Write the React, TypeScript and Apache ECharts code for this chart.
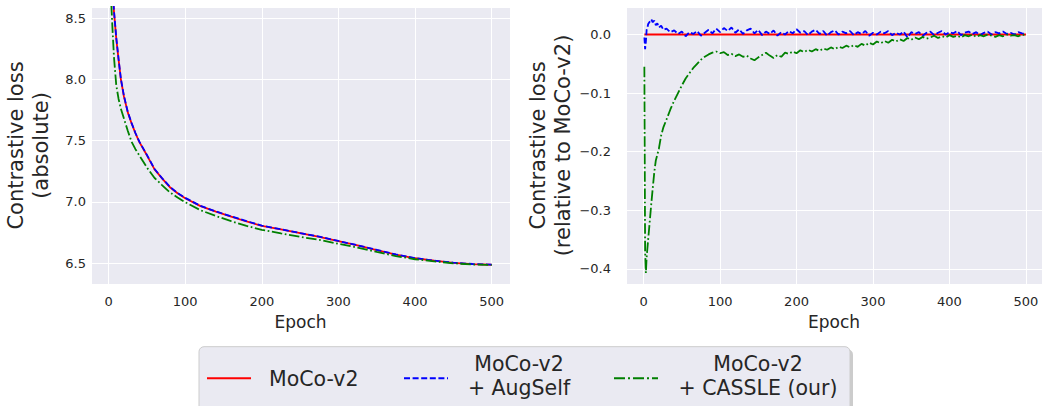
import React, { useEffect, useRef } from "react";
import * as echarts from "echarts";

// ---------- data ----------
const SERIES_NAMES = ["MoCo-v2", "MoCo-v2\n+ AugSelf", "MoCo-v2\n+ CASSLE (our)"];

// Left panel: absolute contrastive loss
const EPOCHS_ABS = [1, 3, 5, 7, 10, 13, 16, 20, 25, 30, 35, 40, 50, 60, 70, 80, 90, 100, 120, 140, 160, 180, 200, 225, 250, 275, 300, 325, 350, 375, 400, 425, 450, 475, 500];
const MOCO_ABS = [10.0, 9.2, 8.75, 8.55, 8.33, 8.16, 8.0, 7.86, 7.73, 7.64, 7.56, 7.49, 7.38, 7.265, 7.19, 7.12, 7.07, 7.03, 6.965, 6.92, 6.88, 6.84, 6.805, 6.775, 6.745, 6.715, 6.68, 6.645, 6.607, 6.57, 6.54, 6.52, 6.503, 6.492, 6.487];
const AUGSELF_ABS = [10.02, 9.21, 8.76, 8.56, 8.34, 8.165, 8.005, 7.865, 7.735, 7.643, 7.562, 7.493, 7.383, 7.268, 7.192, 7.123, 7.072, 7.033, 6.967, 6.922, 6.882, 6.843, 6.806, 6.777, 6.746, 6.717, 6.681, 6.646, 6.609, 6.571, 6.541, 6.521, 6.504, 6.493, 6.488];
const CASSLE_ABS = [9.6, 8.68, 8.42, 8.18, 7.95, 7.84, 7.76, 7.68, 7.58, 7.49, 7.43, 7.38, 7.28, 7.195, 7.135, 7.078, 7.035, 6.997, 6.932, 6.885, 6.843, 6.804, 6.772, 6.743, 6.715, 6.69, 6.658, 6.627, 6.592, 6.558, 6.532, 6.515, 6.499, 6.489, 6.485];

// Right panel: loss relative to MoCo-v2
const EPOCHS_REL = [
  1, 2, 3, 4, 5, 6, 8, 10, 12, 14, 16, 18, 20, 23, 26, 30,
  35, 40, 45, 50, 55, 60, 65, 70, 75, 80, 85, 90, 95, 100,
  105, 110, 115, 120, 125, 130, 135, 140, 145, 150, 155, 160, 165, 170, 175, 180, 185, 190, 195, 200,
  205, 210, 215, 220, 225, 230, 235, 240, 245, 250, 255, 260, 265, 270, 275, 280, 285, 290, 295, 300,
  305, 310, 315, 320, 325, 330, 335, 340, 345, 350, 355, 360, 365, 370, 375, 380, 385, 390, 395, 400,
  405, 410, 415, 420, 425, 430, 435, 440, 445, 450, 455, 460, 465, 470, 475, 480, 485, 490, 495, 500,
];
const MOCO_REL = EPOCHS_REL.map(() => 0);
const AUGSELF_REL = [
  -0.005, -0.025, -0.012, 0.008, 0.012, 0.018, 0.022, 0.026, 0.021, 0.024, 0.016, 0.019, 0.012, 0.015, 0.008, 0.010,
  0.004, 0.007, 0.001, 0.005, -0.003, 0.004, 0.001, 0.006, -0.002, 0.003, 0.008, 0.002, 0.010, 0.004,
  0.011, 0.006, 0.012, 0.003, 0.009, 0.001, 0.007, 0.010, 0.002, 0.008, -0.001, 0.005, 0.001, 0.007, -0.002, 0.004, 0.000, 0.006, 0.002, 0.009,
  0.003, 0.006, -0.001, 0.005, 0.008, 0.001, 0.006, -0.002, 0.004, 0.007, 0.000, 0.005, 0.002, 0.006, -0.001, 0.004, 0.001, 0.006, -0.002, 0.003,
  0.000, 0.005, 0.002, 0.006, -0.001, 0.003, 0.000, 0.005, -0.005, 0.004, 0.001, 0.004, -0.002, 0.003, 0.005, -0.001, 0.003, 0.006, 0.000, 0.004,
  0.002, 0.006, -0.001, 0.003, 0.005, 0.001, 0.004, -0.001, 0.003, 0.005, 0.000, 0.004, 0.002, 0.005, 0.001, 0.003, 0.000, 0.004, 0.002, 0.001,
];
const CASSLE_REL = [
  -0.055, -0.37, -0.407, -0.38, -0.365, -0.35, -0.32, -0.29, -0.262, -0.235, -0.215, -0.205, -0.195, -0.172, -0.158, -0.145,
  -0.128, -0.113, -0.1, -0.087, -0.075, -0.066, -0.057, -0.05, -0.043, -0.038, -0.034, -0.031, -0.029, -0.032,
  -0.030, -0.035, -0.033, -0.037, -0.034, -0.038, -0.036, -0.041, -0.044, -0.039, -0.035, -0.031, -0.036, -0.040, -0.035, -0.038, -0.031, -0.033, -0.029, -0.032,
  -0.027, -0.030, -0.026, -0.029, -0.025, -0.028, -0.024, -0.026, -0.022, -0.025, -0.021, -0.023, -0.019, -0.022, -0.018, -0.021, -0.016, -0.019, -0.014, -0.017,
  -0.012, -0.015, -0.011, -0.014, -0.009, -0.012, -0.008, -0.011, -0.006, -0.009, -0.005, -0.008, -0.004, -0.007, -0.005, -0.002, -0.006, -0.003, -0.005, -0.001,
  -0.004, -0.002, -0.005, -0.001, -0.003, 0.000, -0.004, -0.001, -0.003, 0.000, -0.002, -0.004, -0.001, -0.003, 0.000, -0.002, -0.001, -0.003, 0.000, -0.002,
];

// ---------- style ----------
const FONT = "DejaVu Sans";
const TEXT = "#262626";
const BG = "#eaeaf2";
const COLORS = ["#ff0000", "#0000ff", "#008000"];
const DASHES: any[] = ["solid", [6, 2.6], [10.5, 2.6, 1.7, 2.6]];
const LEGEND_DASHES: any[] = [null, [6, 2.6], [11, 3, 2, 3]];

function pairs(xs: number[], ys: number[]) {
  const n = Math.min(xs.length, ys.length);
  const out: number[][] = [];
  for (let i = 0; i < n; i++) out.push([xs[i], ys[i]]);
  return out;
}

const fmt = (v: number) => {
  const s = Math.abs(v).toFixed(1);
  return (v < -1e-9 ? "\u2212" : "") + s;
};

export default function App() {
  const ref = useRef<HTMLDivElement>(null);
  useEffect(() => {
    const chart = echarts.init(ref.current!, null, { renderer: "svg" });

    const xAxis = (gridIndex: number, max: number) => ({
      type: "value",
      gridIndex,
      min: -23,
      max,
      name: "Epoch",
      nameLocation: "middle",
      nameGap: 29,
      nameTextStyle: { fontFamily: FONT, fontSize: 17, color: TEXT },
      axisLine: { show: false },
      axisTick: { show: false },
      axisLabel: { fontFamily: FONT, fontSize: 13, color: TEXT, margin: 11, showMinLabel: false, showMaxLabel: false },
      splitLine: { show: true, lineStyle: { color: "#ffffff", width: 1 } },
    });

    const yAxis = (gridIndex: number, min: number, max: number, name: string, nameGap: number, margin: number) => ({
      type: "value",
      gridIndex,
      min,
      max,
      name,
      nameLocation: "middle",
      nameRotate: 90,
      nameGap,
      nameTextStyle: { fontFamily: FONT, fontSize: 21, color: TEXT, lineHeight: 24.5, align: "center" },
      axisLine: { show: false },
      axisTick: { show: false },
      axisLabel: {
        fontFamily: FONT, fontSize: 13, color: TEXT, margin,
        showMinLabel: false, showMaxLabel: false,
        formatter: (v: number) => fmt(v),
      },
      splitLine: { show: true, lineStyle: { color: "#ffffff", width: 1 } },
    });

    const line = (i: number, data: number[][], xi: number) => ({
      type: "line",
      name: SERIES_NAMES[i],
      xAxisIndex: xi,
      yAxisIndex: xi,
      data,
      symbol: "none",
      showSymbol: false,
      clip: true,
      lineStyle: { color: COLORS[i], width: 1.8, type: DASHES[i] },
      itemStyle: { color: COLORS[i] },
      emphasis: { disabled: true },
      z: 2 + i,
    });

    const legendText = (text: string, x: number, y: number, align: string) => ({
      type: "text",
      x,
      y,
      silent: true,
      style: {
        text,
        fontFamily: FONT,
        fontSize: 20.5,
        lineHeight: 24.6,
        fill: TEXT,
        textAlign: align,
        align,
        textVerticalAlign: "middle",
        verticalAlign: "middle",
      },
    });
    const legendLine = (i: number, x1: number) => ({
      type: "line",
      silent: true,
      shape: { x1, y1: 378.3, x2: x1 + 44, y2: 378.3 },
      style: { stroke: COLORS[i], lineWidth: 2, lineDash: LEGEND_DASHES[i] },
    });

    chart.setOption({
      animation: false,
      backgroundColor: "#ffffff",
      grid: [
        { left: 91, top: 7, width: 419, height: 277, show: true, backgroundColor: BG, borderWidth: 0, containLabel: false, outerBoundsMode: "none" },
        { left: 626, top: 7, width: 416, height: 277, show: true, backgroundColor: BG, borderWidth: 0, containLabel: false, outerBoundsMode: "none" },
      ],
      xAxis: [xAxis(0, 524), xAxis(1, 521)],
      yAxis: [
        yAxis(0, 6.33, 8.59, "Contrastive loss\n(absolute)", 38, 5),
        yAxis(1, -0.426, 0.047, "Contrastive loss\n(relative to MoCo-v2)", 51, 15),
      ],
      series: [
        line(0, pairs(EPOCHS_ABS, MOCO_ABS), 0),
        line(1, pairs(EPOCHS_ABS, AUGSELF_ABS), 0),
        line(2, pairs(EPOCHS_ABS, CASSLE_ABS), 0),
        line(0, pairs(EPOCHS_REL, MOCO_REL), 1),
        line(1, pairs(EPOCHS_REL, AUGSELF_REL), 1),
        line(2, pairs(EPOCHS_REL, CASSLE_REL), 1),
      ],
      graphic: [
        { type: "rect", silent: true, shape: { x: 202, y: 349.5, width: 651, height: 80, r: 5 }, style: { fill: "rgba(0,0,0,0.2)" } },
        { type: "rect", silent: true, shape: { x: 199, y: 346.7, width: 651, height: 80, r: 5 }, style: { fill: BG, stroke: "#cccccc", lineWidth: 1 } },
        legendLine(0, 207),
        legendText(SERIES_NAMES[0], 269, 378.5, "left"),
        legendLine(1, 404),
        legendText(SERIES_NAMES[1], 519, 376, "center"),
        legendLine(2, 614),
        legendText(SERIES_NAMES[2], 758, 376, "center"),
      ],
    });
    return () => chart.dispose();
  }, []);
  return <div ref={ref} style={{ position: "absolute", left: 0, top: 0, width: 1042, height: 406 }} />;
}
